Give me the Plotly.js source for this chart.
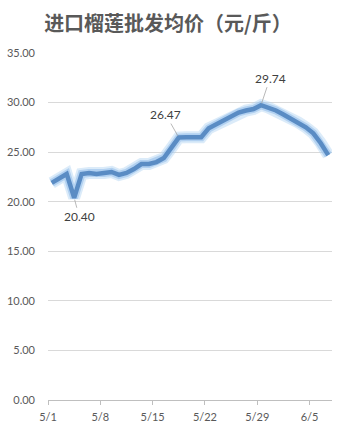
<!DOCTYPE html>
<html>
<head>
<meta charset="utf-8">
<script src="https://cdn.plot.ly/plotly-3.0.1.min.js"></script>
<style>
html,body{margin:0;padding:0;background:#fff;}
#chart{width:345px;height:430px;}
</style>
</head>
<body>
<div id="chart"></div>
<script>
// Daily dates (5/1 – 6/7)
const dates = [
  '2024-05-01','2024-05-02','2024-05-03','2024-05-04','2024-05-05','2024-05-06','2024-05-07',
  '2024-05-08','2024-05-09','2024-05-10','2024-05-11','2024-05-12','2024-05-13','2024-05-14',
  '2024-05-15','2024-05-16','2024-05-17','2024-05-18','2024-05-19','2024-05-20','2024-05-21',
  '2024-05-22','2024-05-23','2024-05-24','2024-05-25','2024-05-26','2024-05-27','2024-05-28',
  '2024-05-29','2024-05-30','2024-05-31','2024-06-01','2024-06-02','2024-06-03','2024-06-04',
  '2024-06-05','2024-06-06','2024-06-07'
];
// Wholesale average price (yuan / jin)
const prices = [
  21.9, 22.3, 22.8, 20.40, 22.8, 22.9, 22.8,
  22.9, 23.0, 22.7, 22.9, 23.3, 23.8, 23.8,
  24.0, 24.4, 25.4, 26.47, 26.5, 26.5, 26.5,
  27.4, 27.8, 28.3, 28.7, 29.0, 29.2, 29.35,
  29.74, 29.5, 29.2, 28.8, 28.4, 28.0, 27.5,
  26.9, 25.9, 24.7
];
// Labelled points
const labelDates = ['2024-05-04', '2024-05-18', '2024-05-29'];
const labelValues = [20.40, 26.47, 29.74];
const labelOffsets = [[5, 19], [-13, -23], [9, -27]];

const yTickVals = [0, 5, 10, 15, 20, 25, 30, 35];
const chartTitle = '进口榴莲批发均价（元/斤）';

const mid = d => d + ' 12:00';
const xs = dates.map(mid);

const glowOuter = {
  x: xs, y: prices, type: 'scatter', mode: 'lines',
  line: {color: 'rgba(175,210,242,0.45)', width: 12},
  hoverinfo: 'skip', showlegend: false
};
const glow = {
  x: xs, y: prices, type: 'scatter', mode: 'lines',
  line: {color: 'rgba(150,192,235,0.6)', width: 8},
  hoverinfo: 'skip', showlegend: false
};
const main = {
  x: xs, y: prices, type: 'scatter', mode: 'lines',
  line: {color: '#5a8cc4', width: 4.5},
  showlegend: false
};

const annotations = labelDates.map((d, i) => ({
  x: mid(d), y: labelValues[i], xref: 'x', yref: 'y',
  text: labelValues[i].toFixed(2),
  showarrow: true, arrowhead: 0, arrowwidth: 0.8, arrowcolor: '#a6a6a6',
  ax: labelOffsets[i][0], ay: labelOffsets[i][1],
  font: {family: 'Lato, "Open Sans", sans-serif', size: 12, color: '#404040'},
  standoff: 2
}));

const layout = {
  width: 345, height: 430,
  margin: {l: 48, r: 13, t: 53, b: 30},
  paper_bgcolor: '#fff', plot_bgcolor: '#fff',
  title: {
    text: '<b>' + chartTitle + '</b>',
    x: 0.487, xref: 'container', xanchor: 'center',
    y: 1 - 24/430, yref: 'container', yanchor: 'middle',
    font: {family: '"Noto Sans CJK SC", sans-serif', size: 20, color: '#595959'}
  },
  xaxis: {
    type: 'date',
    range: ['2024-05-01', '2024-06-08'],
    tick0: '2024-05-01', dtick: 7 * 24 * 3600 * 1000,
    tickformat: '%-m/%-d',
    showgrid: false, zeroline: false,
    showline: true, linecolor: '#bfbfbf', linewidth: 1,
    ticks: 'outside', ticklen: 4, tickcolor: '#bfbfbf',
    ticklabelstandoff: 3,
    tickfont: {family: 'Lato, "Open Sans", sans-serif', size: 11, color: '#595959'},
    fixedrange: true
  },
  yaxis: {
    range: [0, 35],
    tickvals: yTickVals,
    tickformat: '.2f',
    showgrid: true, gridcolor: '#d9d9d9', gridwidth: 1,
    zeroline: false, showline: false, ticks: '',
    ticklabelstandoff: 12,
    tickfont: {family: 'Lato, "Open Sans", sans-serif', size: 11, color: '#595959'},
    fixedrange: true
  },
  annotations: annotations,
  showlegend: false
};

Plotly.newPlot('chart', [glowOuter, glow, main], layout, {displayModeBar: false, staticPlot: true});
</script>
</body>
</html>
